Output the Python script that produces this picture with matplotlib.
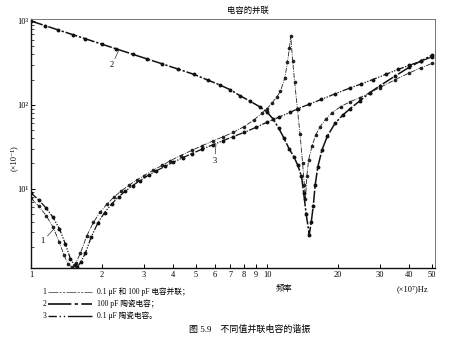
import matplotlib
matplotlib.use("Agg")
import matplotlib.pyplot as plt
from matplotlib.lines import Line2D
from matplotlib.ticker import FixedLocator, FixedFormatter, NullFormatter, LogLocator

plt.rcParams['font.family'] = ['Liberation Serif', 'Noto Sans CJK SC', 'DejaVu Serif']
plt.rcParams['axes.unicode_minus'] = False

# frequency in units of 10^7 Hz, impedance readings
x_par = [1.0, 1.08, 1.16, 1.24, 1.32, 1.38, 1.44, 1.49, 1.55, 1.62, 1.72, 1.84, 1.96,
         2.1, 2.25, 2.4, 2.6, 2.8, 3.0, 3.3, 3.6, 3.9, 4.3, 4.8, 5.3, 5.9, 6.5, 7.2,
         8.0, 8.8, 9.5, 10.0, 10.5, 11.0, 11.4, 11.9, 12.2, 12.45, 12.6, 12.85, 13.1,
         13.45, 13.8, 14.15, 14.4, 14.55, 14.75, 15.0, 15.5, 16.1, 16.8, 17.7, 18.8,
         20.5, 22.5, 24.8, 27.3, 30, 35, 40, 45, 50]
z_par = [7.7, 6.16, 4.76, 3.48, 2.29, 1.6, 1.25, 1.15, 1.3, 1.7, 2.7, 3.98, 5.21,
         6.56, 7.96, 9.29, 11.0, 12.64, 14.23, 16.6, 19.0, 21.6, 24.8, 28.6, 32.5, 37,
         41.5, 47, 55, 66, 79, 90, 105, 124, 145, 210, 320, 480, 668, 330, 185,
         90, 45, 20, 11, 7.5, 14, 22, 32, 44, 55, 67, 80,
         95, 109, 122, 140, 160, 200, 240, 277, 312]

x_100p = [1.0, 1.15, 1.3, 1.5, 1.7, 2.0, 2.3, 2.7, 3.1, 3.6, 4.2, 4.9, 5.6, 6.3, 7.0,
          7.7, 8.5, 9.3, 10.0, 10.6, 11.2, 11.8, 12.4, 13.0, 13.5, 14.0, 14.3, 14.65,
          15.1, 15.4, 15.7, 16.0, 16.4, 17.1, 18.0, 19.4, 21, 22.5, 24.8, 27.3, 30,
          35, 40, 45, 50]
z_100p = [1000, 879, 785, 689, 614, 528, 465, 401, 353, 308, 267, 231, 198, 173, 151,
          128, 110, 95, 82, 68, 53, 40, 30, 24, 19, 14, 8.9, 5.0,
          2.83, 4.0, 6.2, 11, 18, 29, 42, 60, 76, 90, 112, 140, 168,
          222, 280, 335, 390]

x_01u = [1.0, 1.08, 1.16, 1.24, 1.32, 1.40, 1.47, 1.53, 1.57, 1.63, 1.70, 1.80, 1.92,
         2.05, 2.2, 2.35, 2.5, 2.7, 2.9, 3.15, 3.4, 3.7, 4.0, 4.4, 4.8, 5.3, 5.9, 6.5,
         7.2, 8.0, 9.0, 10.0, 11.2, 12.5, 13.5, 15, 17, 19.5, 22.5, 25, 28, 32, 36,
         40, 45, 50]
z_01u = [8.9, 7.3, 5.85, 4.54, 3.31, 2.17, 1.45, 1.22, 1.15, 1.35, 1.7, 2.65, 3.9,
         5.18, 6.6, 7.96, 9.25, 10.9, 12.5, 14.5, 16.3, 18.5, 20.65, 23.4, 26.2, 29.5,
         33.4, 37.3, 41.8, 46.9, 54, 62, 71, 81, 90, 101, 116, 136, 159, 177, 200,
         232, 265, 296, 333, 373]

x_ticks = [1, 2, 3, 4, 5, 6, 7, 8, 9, 10, 20, 30, 40, 50]
y_ticks = [10, 100, 1000]
y_labels = ['10¹', '10²', '10³']

legend_labels = ['0.1 μF 和 100 pF 电容并联；', '100 pF 陶瓷电容；', '0.1 μF 陶瓷电容。']

fig = plt.figure(figsize=(4.65, 3.43), dpi=100)
ax = fig.add_axes([31 / 465, 75 / 343, 404 / 465, 249 / 343])
ax.set_xscale('log')
ax.set_yscale('log')

style1 = dict(color='#222222', lw=0.6, dashes=(6, 1.5, 1, 1.5), marker='o', ms=1.6)
style2 = dict(color='#111111', lw=1.1, dashes=(8, 1.2, 1.5, 1.2), marker='o', ms=1.8)
style3 = dict(color='#111111', lw=0.9, dashes=(6, 1.2, 1, 1.2, 1, 1.2), marker='o', ms=1.8)

ax.plot(x_par, z_par, **style1)
ax.plot(x_100p, z_100p, **style2)
ax.plot(x_01u, z_01u, **style3)

ax.set_xlim(1, 51.5)
ax.set_ylim(1.13, 1057)

ax.xaxis.set_major_locator(FixedLocator(x_ticks))
ax.xaxis.set_major_formatter(FixedFormatter([str(v) for v in x_ticks]))
ax.xaxis.set_minor_locator(FixedLocator([]))
ax.yaxis.set_major_locator(FixedLocator(y_ticks))
ax.yaxis.set_major_formatter(FixedFormatter(y_labels))
ax.yaxis.set_minor_locator(LogLocator(base=10, subs=range(2, 10)))
ax.yaxis.set_minor_formatter(NullFormatter())
ax.tick_params(which='major', direction='in', length=3, width=0.7, labelsize=6, pad=2)
ax.tick_params(which='minor', direction='in', length=2, width=0.5)

for side in ['left', 'bottom']:
    ax.spines[side].set_linewidth(1.0)
    ax.spines[side].set_color('#111111')
for side in ['top', 'right']:
    ax.spines[side].set_linewidth(0.7)
    ax.spines[side].set_color('#777777')

# curve labels with leader lines
lead = dict(arrowstyle='-', lw=0.5, color='#333333', shrinkA=0, shrinkB=0)
ax.annotate('2', xy=(2.36, 455), xytext=(2.2, 330), fontsize=6, ha='center', va='top',
            arrowprops=lead)
ax.annotate('3', xy=(6.08, 34), xytext=(6.0, 24), fontsize=6, ha='center', va='top',
            arrowprops=lead)
ax.annotate('1', xy=(1.25, 3.3), xytext=(1.12, 2.35), fontsize=6, ha='center', va='center',
            arrowprops=lead)

fig.text(248 / 465, 1 - 11 / 343, '电容的并联', fontsize=6, ha='center', va='center')
fig.text(14 / 465, 1 - 158 / 343, '(×10⁻¹)', fontsize=6, rotation=90,
         ha='center', va='center')
fig.text(284 / 465, 1 - 289 / 343, '频率', fontsize=6, ha='center', va='center')
fig.text(412 / 465, 1 - 289 / 343, '(×10⁷)Hz', fontsize=6, ha='center', va='center')

# legend drawn below the axes
legend_styles = [
    dict(color='#333333', lw=0.5, dashes=(14, 2, 3, 2, 3, 2)),
    dict(color='#111111', lw=1.2, dashes=(14, 2, 2, 2)),
    dict(color='#111111', lw=1.0, dashes=(6, 2, 1, 2, 1, 2, 14, 0)),
]
rows_y = [292, 304, 316]
for i, (yy, lab, st) in enumerate(zip(rows_y, legend_labels, legend_styles)):
    fy = 1 - yy / 343
    fig.text(46 / 465, fy, str(i + 1), fontsize=5.5, ha='right', va='center')
    fig.add_artist(Line2D([48 / 465, 92 / 465], [fy, fy], transform=fig.transFigure, **st))
    fig.text(97 / 465, fy, lab, fontsize=5.5, ha='left', va='center')

fig.text(250 / 465, 1 - 329 / 343, '图 5.9    不同值并联电容的谐振', fontsize=6.5,
         ha='center', va='center')

fig.savefig('out.png', dpi=100, facecolor='white')
